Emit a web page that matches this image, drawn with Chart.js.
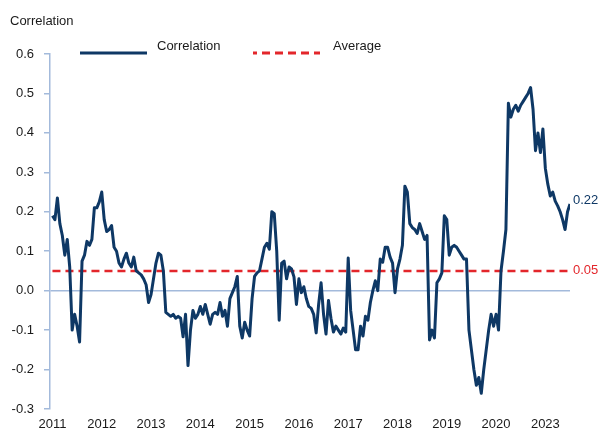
<!DOCTYPE html>
<html>
<head>
<meta charset="utf-8">
<script src="https://cdn.jsdelivr.net/npm/chart.js@4"></script>
<style>
  html, body { margin: 0; padding: 0; background: #fff; }
  #wrap { width: 599px; height: 431px; position: relative; }
</style>
</head>
<body>
<div id="wrap"><canvas id="mainChart"></canvas></div>
<script>
// rolling correlation, one reading every ~2.5px of the original
const corr = [
  0.19, 0.18, 0.235, 0.17, 0.14, 0.09, 0.13, 0.06, -0.1, -0.06,
  -0.09, -0.13, 0.075, 0.09, 0.125, 0.115, 0.13, 0.21, 0.21, 0.225,
  0.25, 0.18, 0.15, 0.155, 0.165, 0.11, 0.1, 0.07, 0.06, 0.08,
  0.095, 0.07, 0.06, 0.085, 0.05, 0.045, 0.04, 0.03, 0.015, -0.03,
  -0.01, 0.03, 0.07, 0.095, 0.09, 0.05, -0.055, -0.06, -0.065, -0.06,
  -0.07, -0.065, -0.07, -0.117, -0.06, -0.19, -0.1, -0.05, -0.07, -0.06,
  -0.04, -0.06, -0.035, -0.06, -0.085, -0.06, -0.055, -0.06, -0.03, -0.065,
  -0.05, -0.09, -0.02, -0.005, 0.01, 0.036, -0.09, -0.12, -0.08, -0.1,
  -0.115, -0.02, 0.036, 0.045, 0.05, 0.08, 0.11, 0.12, 0.105, 0.2,
  0.195, 0.1, -0.075, 0.07, 0.075, 0.03, 0.06, 0.055, 0.035, -0.035,
  0.03, -0.005, 0.01, -0.02, -0.04, -0.045, -0.06, -0.107, -0.035, 0.02,
  -0.06, -0.11, -0.025, -0.07, -0.105, -0.09, -0.1, -0.11, -0.095, -0.105,
  0.083, -0.05, -0.1, -0.15, -0.15, -0.09, -0.115, -0.065, -0.075, -0.03,
  0.0, 0.025, 0.0, 0.08, 0.072, 0.11, 0.11, 0.085, 0.07, -0.005,
  0.055, 0.08, 0.115, 0.265, 0.25, 0.17, 0.16, 0.155, 0.145, 0.17,
  0.15, 0.13, 0.14, -0.125, -0.1, -0.12, 0.02, 0.03, 0.045, 0.19,
  0.18, 0.09, 0.11, 0.115, 0.11, 0.1, 0.09, 0.08, 0.08, -0.1,
  -0.15, -0.2, -0.24, -0.22, -0.26, -0.2, -0.15, -0.1, -0.06, -0.09,
  -0.06, -0.1, 0.05, 0.1, 0.155, 0.475, 0.44, 0.46, 0.47, 0.455,
  0.47, 0.48, 0.49, 0.5, 0.515, 0.46, 0.355, 0.4, 0.35, 0.41,
  0.31, 0.27, 0.24, 0.25, 0.227, 0.215, 0.2, 0.18, 0.155, 0.2,
  0.22
];
const average = 0.05;
const yearLabels = ['2011', '2012', '2013', '2014', '2015', '2016', '2017', '2018', '2019', '2020', '2023'];
const labelStep = 20;

const NAVY = '#0e3865';
const RED = '#e3262b';
const AXIS = '#a3badb';
const FONT = "'Liberation Sans', Arial, sans-serif";

const lastIdx = corr.length - 1;

// legend + end labels drawn on top
const extras = {
  id: 'extras',
  afterDraw(chart) {
    const ctx = chart.ctx;
    const y = chart.scales.y;
    const area = chart.chartArea;
    ctx.save();
    ctx.font = '13px ' + FONT;
    ctx.textBaseline = 'middle';
    ctx.textAlign = 'left';

    ctx.fillStyle = '#1a1a1a';
    ctx.fillText('Correlation', 10, 21);

    // legend
    ctx.lineWidth = 3;
    ctx.strokeStyle = NAVY;
    ctx.beginPath(); ctx.moveTo(80, 53); ctx.lineTo(147, 53); ctx.stroke();
    ctx.fillText('Correlation', 157, 46);

    ctx.strokeStyle = RED;
    ctx.setLineDash([8, 5]);
    ctx.lineDashOffset = 4;
    ctx.beginPath(); ctx.moveTo(253, 53); ctx.lineTo(320, 53); ctx.stroke();
    ctx.setLineDash([]);
    ctx.fillText('Average', 333, 46);

    // end labels
    ctx.fillStyle = NAVY;
    ctx.fillText(corr[lastIdx].toFixed(2), area.right + 3, y.getPixelForValue(corr[lastIdx]) - 3);
    ctx.fillStyle = RED;
    ctx.fillText(average.toFixed(2), area.right + 3, y.getPixelForValue(average) - 1);
    ctx.restore();
  }
};

Chart.defaults.font.family = FONT;
Chart.defaults.font.size = 13;
Chart.defaults.color = '#1a1a1a';

new Chart('mainChart', {
  type: 'line',
  data: {
    datasets: [
      {
        label: 'Correlation',
        data: corr.map((v, i) => ({ x: i, y: v })),
        borderColor: NAVY,
        borderWidth: 3,
        borderJoinStyle: 'round',
        pointRadius: 0,
        tension: 0,
        order: 1
      },
      {
        label: 'Average',
        data: [{ x: 0, y: average }, { x: lastIdx - 1, y: average }],
        borderColor: RED,
        borderWidth: 2.6,
        borderDash: [8, 5],
        pointRadius: 0,
        order: 2
      }
    ]
  },
  options: {
    responsive: true,
    maintainAspectRatio: false,
    animation: false,
    layout: { padding: { top: 54, right: 29, bottom: 0, left: 0 } },
    plugins: {
      legend: { display: false },
      tooltip: { enabled: false }
    },
    scales: {
      x: {
        type: 'linear',
        min: -1,
        max: lastIdx,
        border: { display: false },
        grid: { display: false, drawTicks: false },
        afterFit: scale => { scale.height = 22; },
        ticks: {
          stepSize: labelStep,
          includeBounds: false,
          autoSkip: false,
          maxRotation: 0,
          padding: 8,
          color: '#1a1a1a',
          callback: value => yearLabels[value / labelStep] || ''
        }
      },
      y: {
        min: -0.3,
        max: 0.6,
        border: { display: true, color: AXIS, width: 1.5 },
        afterFit: scale => { scale.width = 50; },
        grid: {
          color: c => (c.tick && c.tick.value === 0) ? AXIS : 'rgba(0,0,0,0)',
          lineWidth: 1.5,
          tickColor: AXIS,
          tickLength: 6
        },
        ticks: {
          stepSize: 0.1,
          padding: 10,
          color: '#1a1a1a',
          callback: value => value.toFixed(1)
        }
      }
    }
  },
  plugins: [extras]
});
</script>
</body>
</html>
